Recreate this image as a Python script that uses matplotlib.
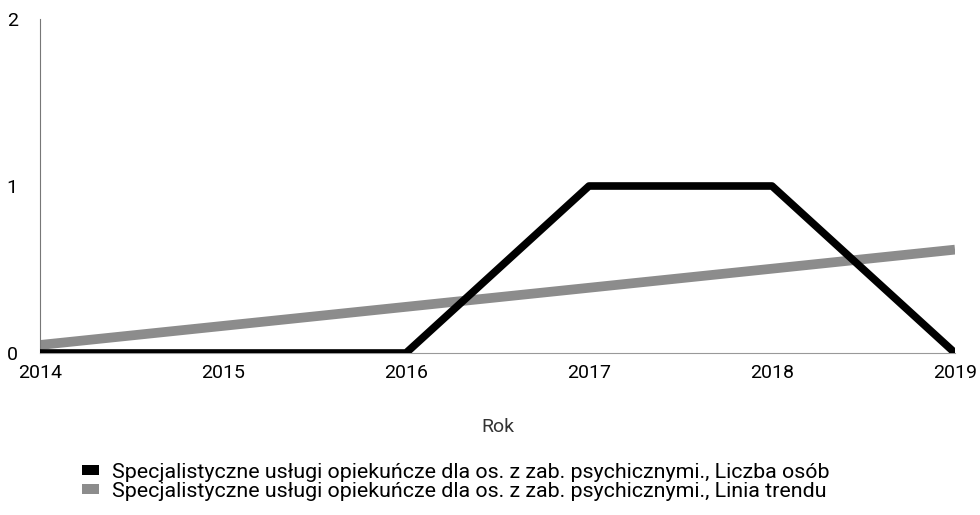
import matplotlib
matplotlib.use("Agg")
import matplotlib.pyplot as plt
from matplotlib.patches import Patch

years = [2014, 2015, 2016, 2017, 2018, 2019]
liczba_osob = [0, 0, 0, 1, 1, 0]
trend_years = [2014, 2019]
trend_values = [0.048, 0.619]
y_ticks = [0, 1, 2]
label_main = "Specjalistyczne usługi opiekuńcze dla os. z zab. psychicznymi., Liczba osób"
label_trend = "Specjalistyczne usługi opiekuńcze dla os. z zab. psychicznymi., Linia trendu"

plt.rcParams['font.family'] = ['Roboto', 'DejaVu Sans']

W, H = 980, 515
fig = plt.figure(figsize=(W / 100, H / 100), dpi=100)
ax = fig.add_axes([40 / W, 1 - 353 / H, (955 - 40) / W, (353 - 19) / H])

ax.plot(years, liczba_osob, color='black', lw=5.5, solid_capstyle='butt', zorder=3)
ax.plot(trend_years, trend_values, color='#8c8c8c', lw=7, solid_capstyle='butt', zorder=2)

ax.set_xlim(2014, 2019)
ax.set_ylim(0, 2)
ax.set_xticks(years)
ax.set_xticklabels([str(y) for y in years], fontsize=14)
ax.set_yticks(y_ticks)
ax.set_yticklabels([str(v) for v in y_ticks], fontsize=14)
ax.tick_params(axis='both', length=0)
ax.tick_params(axis='x', pad=8)
ax.tick_params(axis='y', pad=16)

for s in ['top', 'right']:
    ax.spines[s].set_visible(False)
ax.spines['left'].set_linestyle((0, (1, 1)))
ax.spines['left'].set_color('#777777')
ax.spines['left'].set_linewidth(0.8)
ax.spines['bottom'].set_color('#999999')
ax.spines['bottom'].set_linewidth(0.8)

ax.set_xlabel("Rok", fontsize=14, labelpad=26, color='#333333')

handles = [Patch(facecolor='black', edgecolor='none'),
           Patch(facecolor='#8c8c8c', edgecolor='none')]
fig.legend(handles, [label_main, label_trend], loc='upper center',
           bbox_to_anchor=(0.465, 1 - 452 / H), frameon=False, fontsize=15.4,
           handlelength=0.8, handleheight=0.4, handletextpad=0.6,
           labelspacing=0.0, borderpad=0)

fig.savefig("out.png", dpi=100)
